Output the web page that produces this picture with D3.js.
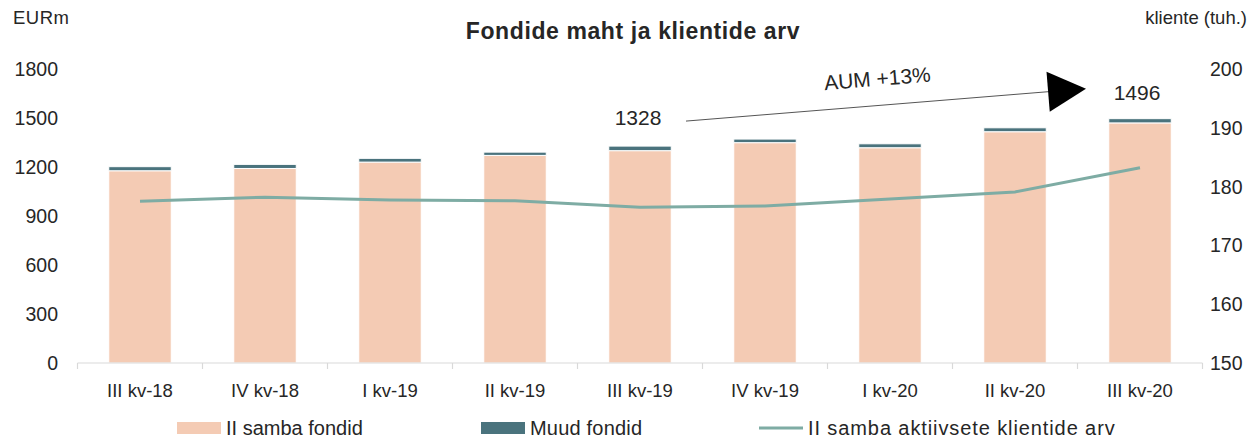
<!DOCTYPE html>
<html>
<head>
<meta charset="utf-8">
<script src="https://cdn.jsdelivr.net/npm/d3@7"></script>
<style>
  body { margin: 0; background: #fff; }
  svg text { font-family: "Liberation Sans", Arial, sans-serif; fill: #262626; }
</style>
</head>
<body>
<svg id="chart" width="1256" height="438"></svg>
<script>
// quarters
const quarters = ["III kv-18", "IV kv-18", "I kv-19", "II kv-19", "III kv-19", "IV kv-19", "I kv-20", "II kv-20", "III kv-20"];
// II samba fondid (EURm)
const pillar2 = [1177, 1191, 1230, 1271, 1300, 1349, 1318, 1416, 1470];
// Muud fondid (EURm)
const otherFunds = [25, 25, 23, 20, 28, 22, 24, 24, 26];
// II samba aktiivsete klientide arv (tuh.)
const clients = [177.5, 178.2, 177.7, 177.6, 176.5, 176.7, 177.9, 179.1, 183.2];
const leftTicks = [0, 300, 600, 900, 1200, 1500, 1800];
const rightTicks = [150, 160, 170, 180, 190, 200];
// AUM annotation
const aumFrom = { idx: 4, value: 1328 };
const aumTo = { idx: 8, value: 1496 };
const aumLabel = "AUM +13%";

const colPink = "#f4cbb4";
const colTeal = "#4a737d";
const colLine = "#7eaca4";

const svg = d3.select("#chart");

const x = d3.scaleBand()
    .domain(quarters)
    .range([77.5, 1202.5])
    .paddingInner(0.5)
    .paddingOuter(0.25);

const yL = d3.scaleLinear().domain([0, 1800]).range([363, 69]);
const yR = d3.scaleLinear().domain([150, 200]).range([363, 69]);

// title + axis titles
svg.append("text")
    .attr("x", 633).attr("y", 39)
    .attr("text-anchor", "middle")
    .attr("font-size", "23px").attr("font-weight", "bold")
    .attr("letter-spacing", "0.6px")
    .text("Fondide maht ja klientide arv");
svg.append("text").attr("x", 13).attr("y", 24).attr("font-size", "18.5px")
    .attr("letter-spacing", "0.5px").text("EURm");
svg.append("text").attr("x", 1247).attr("y", 24).attr("text-anchor", "end")
    .attr("font-size", "18.5px").text("kliente (tuh.)");

// left axis labels
svg.append("g").selectAll("text")
    .data(leftTicks).enter().append("text")
    .attr("x", 58).attr("y", d => yL(d) + 7)
    .attr("text-anchor", "end")
    .attr("font-size", "19.5px")
    .text(d => d);

// right axis labels
svg.append("g").selectAll("text")
    .data(rightTicks).enter().append("text")
    .attr("x", 1210).attr("y", d => yR(d) + 7)
    .attr("font-size", "19.5px")
    .text(d => d);

// bars
const stackData = quarters.map((q, i) => ({ q: q, a: pillar2[i], b: otherFunds[i] }));

svg.append("g").selectAll("rect.p2")
    .data(stackData).enter().append("rect")
    .attr("x", d => x(d.q))
    .attr("width", x.bandwidth())
    .attr("y", d => yL(d.a))
    .attr("height", d => yL(0) - yL(d.a))
    .attr("fill", colPink)
    .attr("stroke", "#fff").attr("stroke-width", 1);

svg.append("g").selectAll("rect.other")
    .data(stackData).enter().append("rect")
    .attr("x", d => x(d.q))
    .attr("width", x.bandwidth())
    .attr("y", d => yL(d.a + d.b))
    .attr("height", d => yL(d.a) - yL(d.a + d.b))
    .attr("fill", colTeal)
    .attr("stroke", "#fff").attr("stroke-width", 1);

// x axis
const xAxis = svg.append("g").attr("transform", "translate(0,363)");
xAxis.append("line")
    .attr("x1", 77.5).attr("x2", 1202.5)
    .attr("stroke", "#d9d9d9").attr("stroke-width", 1.2);
const bounds = quarters.map(q => x(q) - x.step() * x.paddingInner() / 2);
bounds.push(1202.5);
xAxis.selectAll("line.tick")
    .data(bounds).enter().append("line")
    .attr("x1", d => d).attr("x2", d => d)
    .attr("y1", 0).attr("y2", 6)
    .attr("stroke", "#d9d9d9").attr("stroke-width", 1.2);
xAxis.selectAll("text")
    .data(quarters).enter().append("text")
    .attr("x", d => x(d) + x.bandwidth() / 2)
    .attr("y", 34)
    .attr("text-anchor", "middle")
    .attr("font-size", "18.5px")
    .text(d => d);

// clients line
const line = d3.line()
    .x((d, i) => x(quarters[i]) + x.bandwidth() / 2)
    .y(d => yR(d));
svg.append("path")
    .datum(clients)
    .attr("d", line)
    .attr("fill", "none")
    .attr("stroke", colLine)
    .attr("stroke-width", 3);

// AUM annotation
const cx1 = x(quarters[aumFrom.idx]) + x.bandwidth() / 2;
const cx2 = x(quarters[aumTo.idx]) + x.bandwidth() / 2;
svg.append("text")
    .attr("x", cx1 - 2).attr("y", yL(aumFrom.value) - 21)
    .attr("text-anchor", "middle").attr("font-size", "21px")
    .text(aumFrom.value);
svg.append("text")
    .attr("x", cx2 - 3).attr("y", yL(aumTo.value) - 19)
    .attr("text-anchor", "middle").attr("font-size", "21px")
    .text(aumTo.value);

const ax1 = cx1 + 46, ay1 = yL(aumFrom.value) - 25;
const ax2 = cx2 - 54, ay2 = yL(aumTo.value) - 30;
svg.append("line")
    .attr("x1", ax1).attr("y1", ay1)
    .attr("x2", ax2 - 20).attr("y2", ay2 + 1.6)
    .attr("stroke", "#555").attr("stroke-width", 1);
const ang = Math.atan2(ay2 - ay1, ax2 - ax1);
svg.append("path")
    .attr("d", "M0,0 L-38,-20 L-38,20 Z")
    .attr("fill", "#000")
    .attr("transform", `translate(${ax2},${ay2}) rotate(${ang * 180 / Math.PI})`);
const lx = (ax1 + ax2) / 2 - 8, ly = (ay1 + ay2) / 2 - 19;
svg.append("text")
    .attr("x", lx).attr("y", ly)
    .attr("text-anchor", "middle").attr("font-size", "21px")
    .attr("transform", `rotate(${ang * 180 / Math.PI}, ${lx}, ${ly})`)
    .text(aumLabel);

// legend
const legend = svg.append("g").attr("transform", "translate(0,428)");
const legendItems = [
    { label: "II samba fondid", x: 177, type: "rect", color: colPink, ls: 0 },
    { label: "Muud fondid", x: 481, type: "rect", color: colTeal, ls: 0.2 },
    { label: "II samba aktiivsete klientide arv", x: 759, type: "line", color: colLine, ls: 0.9 }
];
legendItems.forEach(it => {
    if (it.type === "rect") {
        legend.append("rect").attr("x", it.x).attr("y", -6).attr("width", 44).attr("height", 12).attr("fill", it.color);
    } else {
        legend.append("line").attr("x1", it.x).attr("x2", it.x + 44).attr("y1", 0).attr("y2", 0)
            .attr("stroke", it.color).attr("stroke-width", 3);
    }
    legend.append("text").attr("x", it.x + 49).attr("y", 7).attr("font-size", "20px")
        .attr("letter-spacing", it.ls + "px").text(it.label);
});
</script>
</body>
</html>
